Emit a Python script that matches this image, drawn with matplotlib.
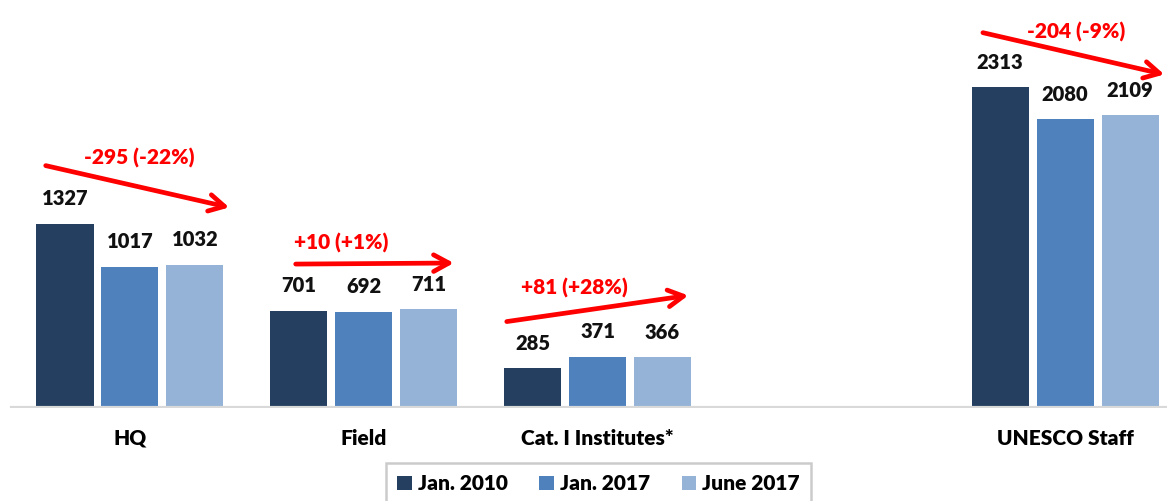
import numpy as np
import matplotlib
matplotlib.use('Agg')
import matplotlib.pyplot as plt

# data
groups = ['HQ', 'Field', 'Cat. I Institutes*', 'UNESCO Staff']
group_pos = [0, 1, 2, 4]
series = ['Jan. 2010', 'Jan. 2017', 'June 2017']
jan2010 = [1327, 701, 285, 2313]
jan2017 = [1017, 692, 371, 2080]
june2017 = [1032, 711, 366, 2109]
changes = ['-295 (-22%)', '+10 (+1%)', '+81 (+28%)', '-204 (-9%)']

colors = ['#253F61', '#4F81BD', '#95B3D7']

# arrow / change label layout (offsets from group centre, data units)
arr_dx0 = [-0.372, -0.303, -0.40, -0.363]
arr_dx1 = [0.436, 0.397, 0.40, 0.436]
arr_y0 = [1751, 1037, 620, 2709]
arr_y1 = [1441, 1045, 814, 2399]
lab_dx = [0.038, -0.098, -0.10, 0.047]
lab_y = [1801, 1189, 865, 2709]

plt.rcParams['font.family'] = ['Lato', 'DejaVu Sans']

fig = plt.figure(figsize=(11.67, 5.01), dpi=100)
ax = fig.add_axes([0, 0.1856, 1, 0.8144])

step = 0.278
width = 0.244
x = np.array(group_pos, dtype=float)
for i, (vals, lab) in enumerate(zip([jan2010, jan2017, june2017], series)):
    xs = x + (i - 1) * step
    ax.bar(xs, vals, width, color=colors[i], label=lab, zorder=2)
    for xx, v in zip(xs, vals):
        ax.text(xx, v + 180, str(v), ha='center', va='center', fontsize=14.5,
                fontweight='heavy', color='#111111')

for k, xc in enumerate(x):
    ax.annotate('', xy=(xc + arr_dx1[k], arr_y1[k]),
                xytext=(xc + arr_dx0[k], arr_y0[k]),
                arrowprops=dict(arrowstyle='->,head_length=1.1,head_width=0.6',
                                color='#ff0000', lw=3.4), annotation_clip=False)
    ax.text(xc + lab_dx[k], lab_y[k], changes[k], ha='center', va='center',
            fontsize=15, fontweight='heavy', color='#ff0000')

ax.axhline(0, xmin=12 / 1167, xmax=1, color='#d9d9d9', lw=3, zorder=3)

ax.set_xlim(-0.556, 4.436)
ax.set_ylim(0, 2940)
for sp in ax.spines.values():
    sp.set_visible(False)
ax.set_yticks([])
ax.set_xticks(x)
ax.set_xticklabels(groups, fontsize=15, fontweight='heavy')
ax.tick_params(axis='x', length=0, pad=15)

leg = fig.legend(loc='upper center', bbox_to_anchor=(0.513, 0.097), ncol=3,
                 frameon=True, fancybox=False,
                 prop={'weight': 'heavy', 'size': 15},
                 handlelength=0.7, handleheight=0.7, handletextpad=0.3,
                 columnspacing=1.5, borderpad=0.55)
leg.get_frame().set_edgecolor('#bfbfbf')
leg.get_frame().set_linewidth(1.8)

fig.savefig('out.png', dpi=100)
